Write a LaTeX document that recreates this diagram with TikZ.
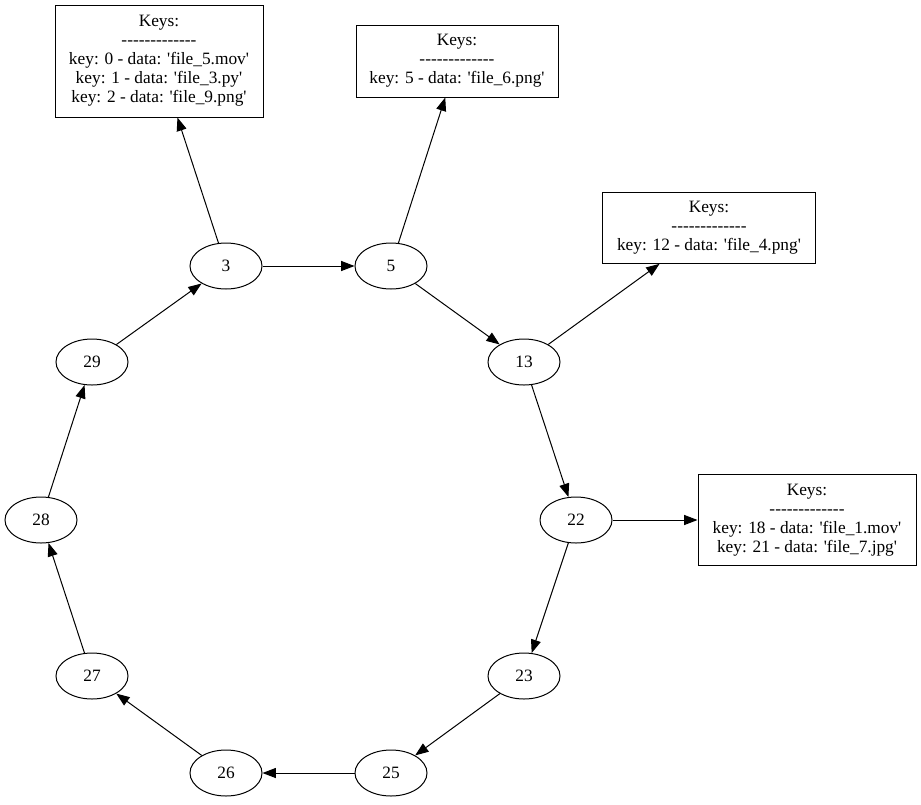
\documentclass[tikz,border=0pt]{standalone}
\usepackage{fontspec}
\setmainfont{Liberation Serif}[Ligatures=TeXOff]
\usetikzlibrary{arrows.meta, shapes.geometric}
\newcommand{\keyrule}{-------------}
\begin{document}
\begin{tikzpicture}[
    x=0.75pt, y=-0.75pt,
    peer/.style={draw, ellipse, line width=0.75pt, minimum width=54pt, minimum height=34.5pt, inner sep=0pt, font=\fontsize{13}{14.25}\selectfont},
    keys/.style={draw, rectangle, line width=0.75pt, align=center, inner sep=0pt, font=\fontsize{13}{14.25}\selectfont},
    edge/.style={-{Triangle[length=10pt, width=7.5pt]}, line width=0.75pt}
]
    \useasboundingbox (0,0) rectangle (921,804);

    % --- ring of peers ---
    \node[peer] (p3)  at (226,266) {3};
    \node[peer] (p5)  at (391,266) {5};
    \node[peer] (p13) at (524,362) {13};
    \node[peer] (p22) at (576,520) {22};
    \node[peer] (p23) at (524,676) {23};
    \node[peer] (p25) at (391,773) {25};
    \node[peer] (p26) at (226,773) {26};
    \node[peer] (p27) at (92,676) {27};
    \node[peer] (p28) at (41,520) {28};
    \node[peer] (p29) at (92,362) {29};

    % --- key boxes ---
    \node[keys, minimum width=156pt, minimum height=84pt] (k3) at (159,61)
        {Keys:\\\keyrule\\key: 0 - data: 'file\_5.mov'\\key: 1 - data: 'file\_3.py'\\key: 2 - data: 'file\_9.png'};
    \node[keys, minimum width=151.5pt, minimum height=54pt] (k5) at (457,61)
        {Keys:\\\keyrule\\key: 5 - data: 'file\_6.png'};
    \node[keys, minimum width=160pt, minimum height=53pt] (k13) at (709,228)
        {Keys:\\\keyrule\\key: 12 - data: 'file\_4.png'};
    \node[keys, minimum width=163.5pt, minimum height=68pt] (k22) at (807,520)
        {Keys:\\\keyrule\\key: 18 - data: 'file\_1.mov'\\key: 21 - data: 'file\_7.jpg'};

    % --- successor links ---
    \draw[edge] (p3) -- (p5);
    \draw[edge] (p5) -- (p13);
    \draw[edge] (p13) -- (p22);
    \draw[edge] (p22) -- (p23);
    \draw[edge] (p23) -- (p25);
    \draw[edge] (p25) -- (p26);
    \draw[edge] (p26) -- (p27);
    \draw[edge] (p27) -- (p28);
    \draw[edge] (p28) -- (p29);
    \draw[edge] (p29) -- (p3);

    % --- stored keys ---
    \draw[edge] (p3) -- (k3);
    \draw[edge] (p5) -- (k5);
    \draw[edge] (p13) -- (k13);
    \draw[edge] (p22) -- (k22);
\end{tikzpicture}
\end{document}
